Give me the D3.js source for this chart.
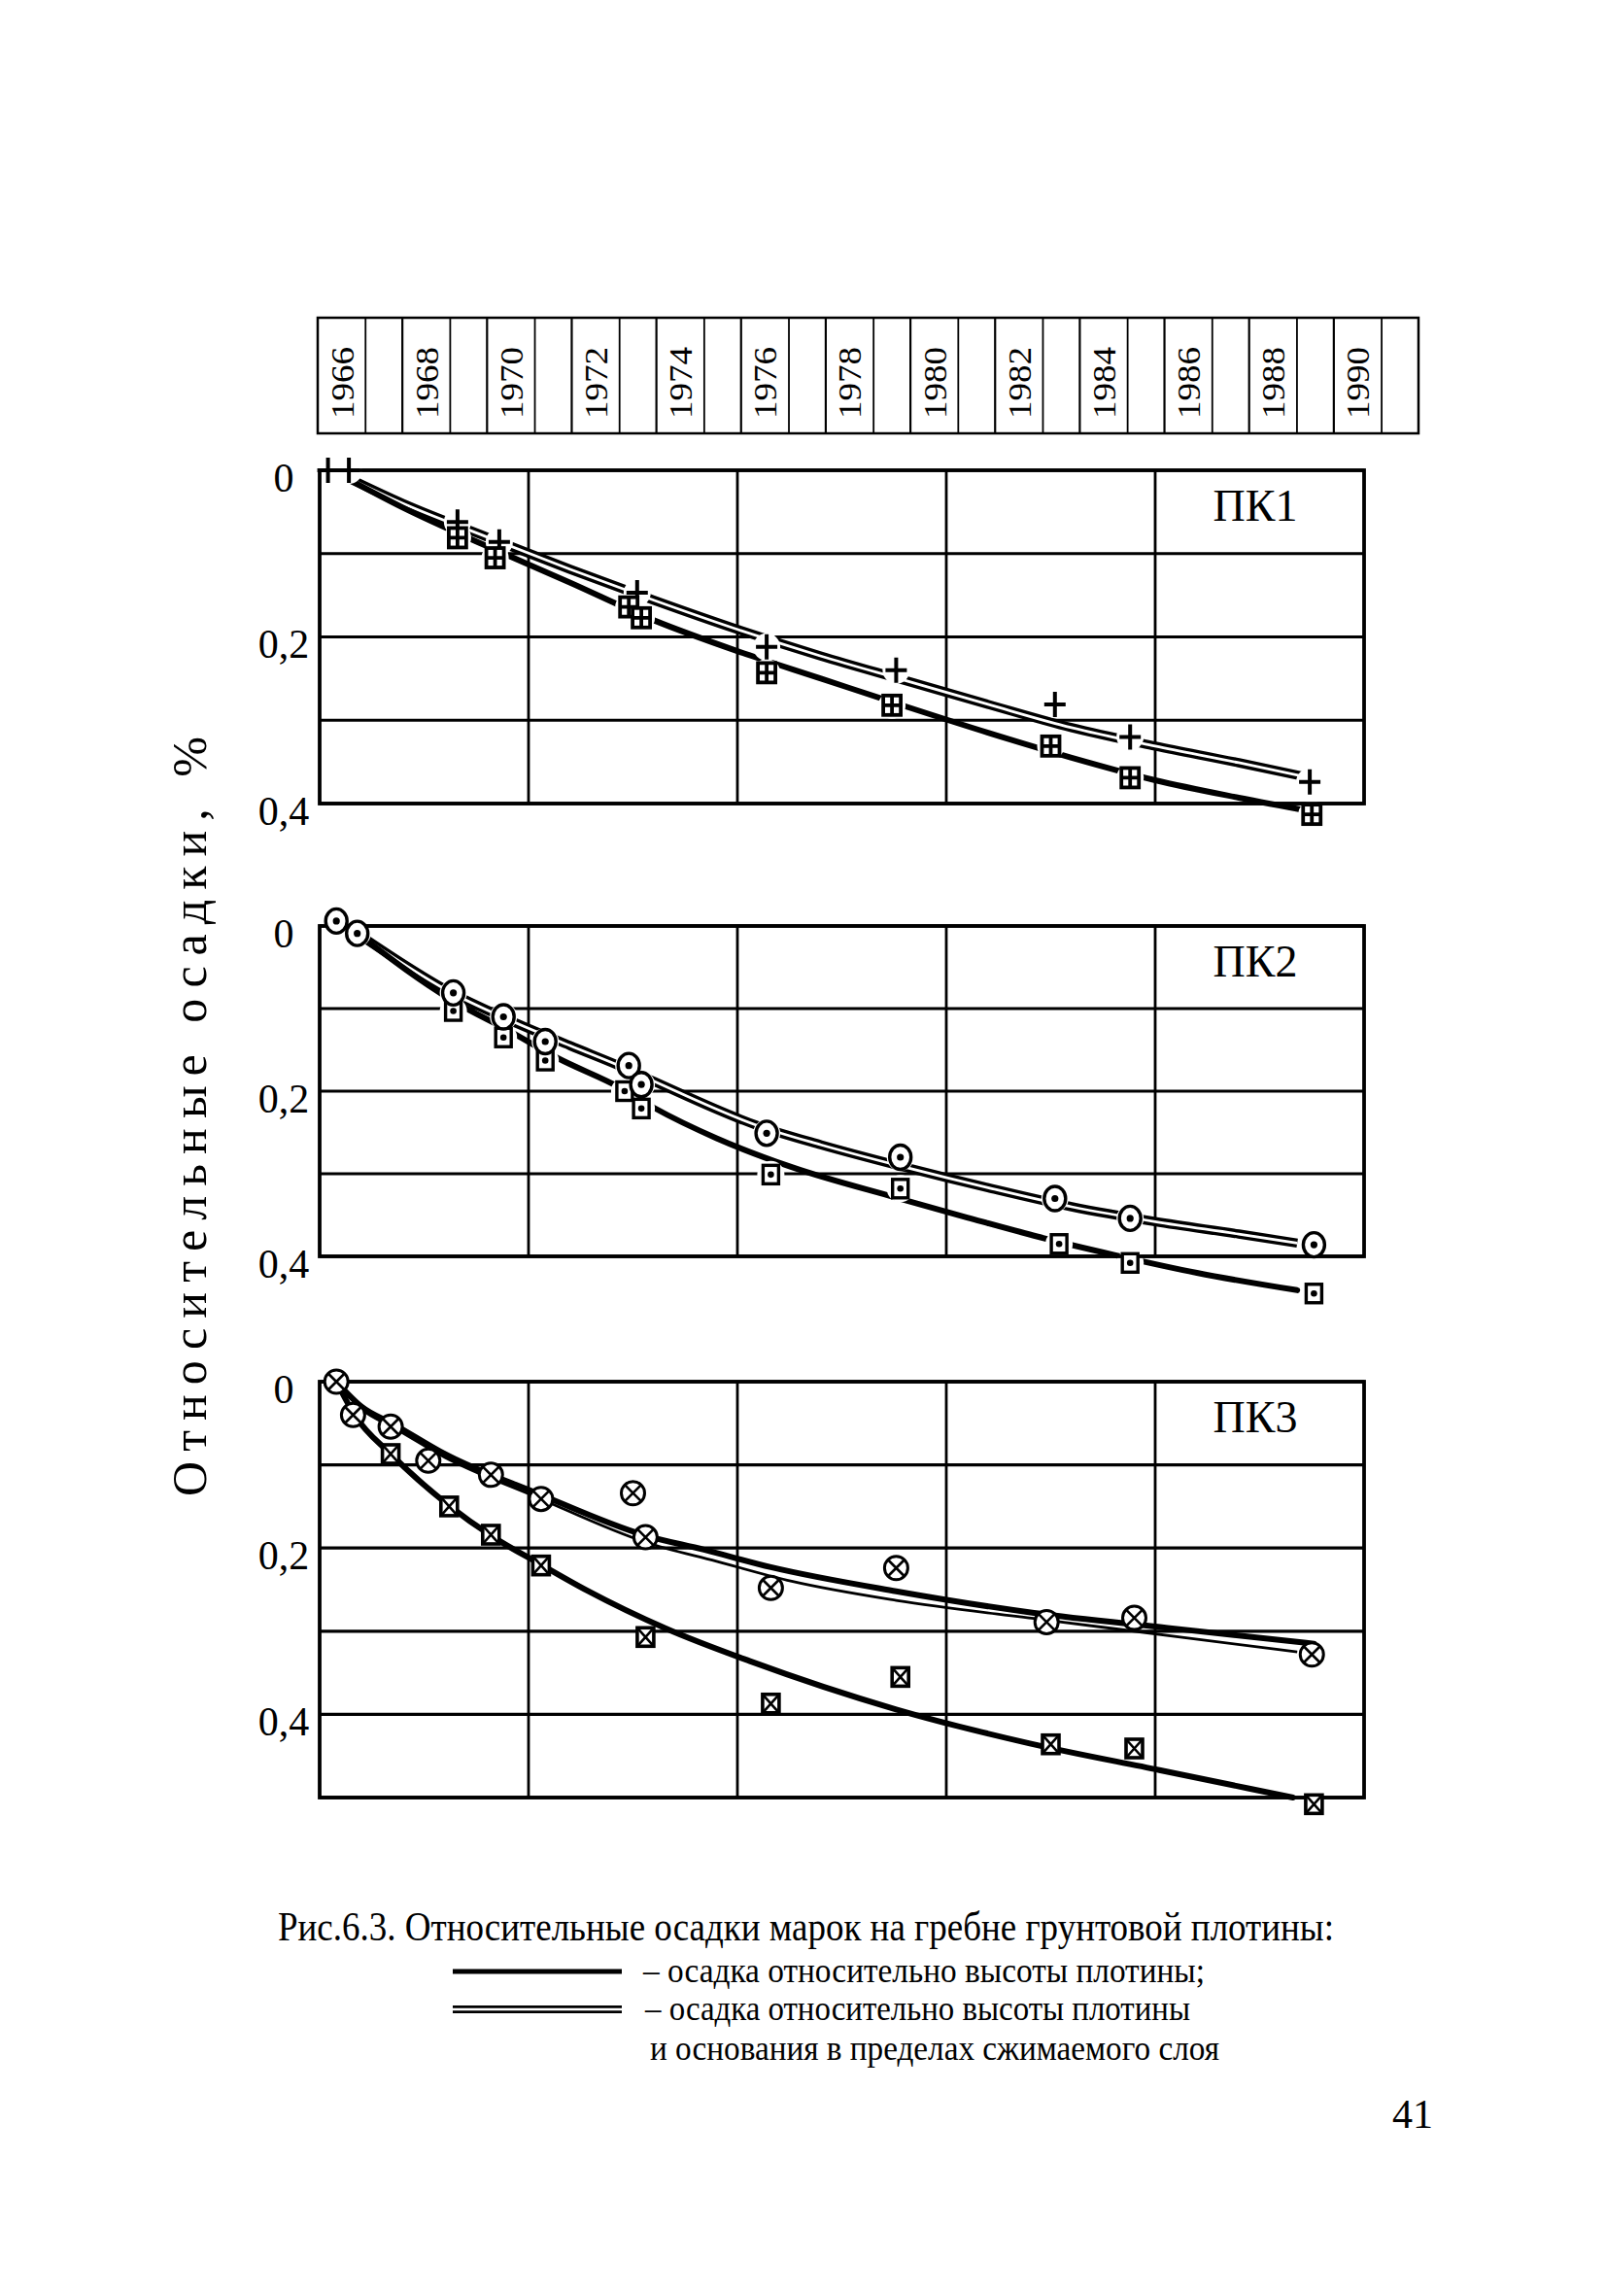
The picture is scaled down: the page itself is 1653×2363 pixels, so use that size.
<!DOCTYPE html>
<html><head><meta charset="utf-8">
<script src="https://cdn.jsdelivr.net/npm/d3@7"></script>
<style>
body{margin:0;background:#fff}
svg{display:block;background:#fff}
text{font-family:"Liberation Serif","Times New Roman",serif;fill:#000}
</style>
</head><body>
<svg id="c" width="1653" height="2363"></svg>
<script>
// ---------- data ----------
const stripYears = ["1966","1968","1970","1972","1974","1976","1978","1980","1982","1984","1986","1988","1990"];
const gridYears = [1971, 1976, 1981, 1986];
const yTickValues = [0, 0.2, 0.4];
const yTickLabels = ["0", "0,2", "0,4"];
const panelNames = ["ПК1", "ПК2", "ПК3"];

// ПК1
const pk1Plus = [[1966.2,0],[1966.7,0],[1969.3,0.062],[1970.3,0.086],[1973.6,0.147],[1976.7,0.212],[1979.8,0.240],[1983.6,0.281],[1985.4,0.320],[1989.7,0.374]];
const pk1Square = [[1969.3,0.081],[1970.2,0.105],[1973.4,0.164],[1973.7,0.177],[1976.7,0.243],[1979.7,0.282],[1983.5,0.331],[1985.4,0.369],[1989.75,0.413]];
const pk1Double = [[1966.3,0],[1968,0.040],[1970,0.080],[1972,0.119],[1974,0.156],[1976,0.191],[1978,0.223],[1980,0.252],[1982,0.281],[1984,0.309],[1986,0.331],[1988,0.351],[1989.5,0.367]];
const pk1Single = [[1966.3,0],[1968,0.045],[1970,0.091],[1972,0.135],[1974,0.180],[1976,0.217],[1978,0.250],[1980,0.283],[1982,0.315],[1984,0.345],[1986,0.372],[1988,0.393],[1989.8,0.410]];

// ПК2
const pk2Circle = [[1966.4,-0.006],[1966.9,0.009],[1969.2,0.081],[1970.4,0.110],[1971.4,0.140],[1973.4,0.169],[1973.7,0.192],[1976.7,0.251],[1979.9,0.280],[1983.6,0.330],[1985.4,0.354],[1989.8,0.386]];
const pk2Square = [[1969.2,0.103],[1970.4,0.135],[1971.4,0.163],[1973.3,0.200],[1973.7,0.221],[1976.8,0.301],[1979.9,0.318],[1983.7,0.385],[1985.4,0.408],[1989.8,0.445]];
const pk2Double = [[1966.9,0.009],[1969.2,0.082],[1970.5,0.113],[1972,0.145],[1973.3,0.172],[1974,0.188],[1976.5,0.242],[1978,0.265],[1980,0.292],[1982,0.317],[1984,0.340],[1986,0.358],[1988,0.373],[1989.4,0.384]];
const pk2Single = [[1966.9,0.009],[1969.2,0.091],[1970.5,0.126],[1971.7,0.160],[1973.2,0.196],[1974,0.220],[1975.5,0.257],[1977.3,0.292],[1979.8,0.329],[1981.5,0.353],[1983.1,0.375],[1985,0.398],[1987,0.420],[1989.4,0.441]];

// ПК3
const pk3CircleX = [[1966.4,0],[1966.8,0.040],[1967.7,0.054],[1968.6,0.095],[1970.1,0.112],[1971.3,0.141],[1973.5,0.134],[1973.8,0.187],[1976.8,0.248],[1979.8,0.224],[1983.4,0.289],[1985.5,0.284],[1989.75,0.328]];
const pk3SquareX = [[1967.7,0.087],[1969.1,0.150],[1970.1,0.184],[1971.3,0.221],[1973.8,0.307],[1976.8,0.387],[1979.9,0.355],[1983.5,0.436],[1985.5,0.441],[1989.8,0.508]];
const pk3UpperThick = [[1966.4,0],[1967.0,0.030],[1967.8,0.052],[1969,0.087],[1971.2,0.134],[1973.8,0.185],[1975.2,0.202],[1976.8,0.223],[1979.8,0.252],[1983.1,0.278],[1986.3,0.296],[1989.8,0.315]];
const pk3UpperThin = [[1966.4,0],[1967.0,0.033],[1967.8,0.056],[1969,0.091],[1971.2,0.139],[1973.8,0.193],[1975.5,0.216],[1977.3,0.240],[1979.8,0.263],[1983.3,0.286],[1986.6,0.307],[1989.4,0.325]];
const pk3Lower = [[1966.4,0],[1966.85,0.041],[1967.7,0.087],[1969.1,0.149],[1970.1,0.185],[1971.3,0.220],[1972.4,0.251],[1974.3,0.297],[1976.3,0.336],[1979.8,0.394],[1983,0.435],[1986.1,0.467],[1989.3,0.500]];

const captionLines = [
  "Рис.6.3. Относительные осадки марок на гребне грунтовой плотины:",
  "– осадка относительно высоты плотины;",
  "– осадка относительно высоты плотины",
  "и основания в пределах сжимаемого слоя"
];
const yTitle = "Относительные осадки, %";
const pageNumber = "41";

// ---------- layout ----------
const svg = d3.select("#c");
const FONT = '"Liberation Serif","Times New Roman",serif';
const X = d3.scaleLinear().domain([1966, 1991]).range([329, 1404]);

const panels = [
  {name: panelNames[0], top: 484, bottom: 827, max: 0.4, halo: true,
   lines: [{pts: pk1Double, type: "double"}, {pts: pk1Single, type: "single"}],
   series: [{pts: pk1Plus, m: "plus"}, {pts: pk1Square, m: "sqgrid"}]},
  {name: panelNames[1], top: 953, bottom: 1293, max: 0.4, halo: true,
   lines: [{pts: pk2Double, type: "double"}, {pts: pk2Single, type: "single"}],
   series: [{pts: pk2Square, m: "sqdot"}, {pts: pk2Circle, m: "circdot"}]},
  {name: panelNames[2], top: 1422, bottom: 1850, max: 0.5, halo: false,
   lines: [{pts: pk3UpperThin, type: "thin"}, {pts: pk3UpperThick, type: "single"}, {pts: pk3Lower, type: "single"}],
   series: [{pts: pk3SquareX, m: "sqx"}, {pts: pk3CircleX, m: "circx"}]}
];

// ---------- year strip ----------
const strip = svg.append("g");
const band = d3.scaleBand().domain(stripYears).range([327, 1460]);
const sTop = 327, sBot = 446;
strip.append("rect").attr("x", band.range()[0]).attr("y", sTop)
  .attr("width", band.range()[1] - band.range()[0]).attr("height", sBot - sTop)
  .attr("fill", "none").attr("stroke", "#000").attr("stroke-width", 2.5);
strip.selectAll("line.p").data(stripYears.slice(1)).join("line")
  .attr("x1", d => band(d)).attr("x2", d => band(d)).attr("y1", sTop).attr("y2", sBot)
  .attr("stroke", "#000").attr("stroke-width", 2.2);
strip.selectAll("line.h").data(stripYears).join("line")
  .attr("x1", d => band(d) + band.bandwidth() * 0.565).attr("x2", d => band(d) + band.bandwidth() * 0.565)
  .attr("y1", sTop).attr("y2", sBot).attr("stroke", "#000").attr("stroke-width", 1.8);
strip.selectAll("text").data(stripYears).join("text")
  .attr("x", d => band(d) + band.bandwidth() * 0.2825).attr("y", 394)
  .attr("transform", d => `rotate(-90,${band(d) + band.bandwidth() * 0.2825},394)`)
  .attr("text-anchor", "middle").attr("dy", "0.35em")
  .attr("textLength", 74).attr("lengthAdjust", "spacingAndGlyphs")
  .style("font-size", "34px").text(d => d);

// ---------- markers ----------
function marker(g, type, cx, cy) {
  const m = g.append("g").attr("transform", `translate(${cx},${cy})`)
    .attr("stroke", "#000").attr("fill", "#fff");
  if (type === "plus") {
    m.append("path").attr("d", "M-11,0H11M0,-13V13").attr("stroke-width", 4);
  } else if (type === "sqgrid") {
    m.append("rect").attr("x", -9).attr("y", -10).attr("width", 18).attr("height", 20).attr("stroke-width", 3.8);
    m.append("path").attr("d", "M-9,0H9M0,-10V10").attr("stroke-width", 3.8);
  } else if (type === "circdot") {
    m.append("ellipse").attr("rx", 11).attr("ry", 12.5).attr("stroke-width", 3.4);
    m.append("circle").attr("r", 3.6).attr("fill", "#000").attr("stroke", "none");
  } else if (type === "sqdot") {
    m.append("rect").attr("x", -8).attr("y", -9.5).attr("width", 16).attr("height", 19).attr("stroke-width", 3.4);
    m.append("circle").attr("r", 3.3).attr("fill", "#000").attr("stroke", "none");
  } else if (type === "circx") {
    m.append("circle").attr("r", 12).attr("stroke-width", 3);
    m.append("path").attr("d", "M-8,-8L8,8M8,-8L-8,8").attr("stroke-width", 2.6);
  } else if (type === "sqx") {
    m.append("rect").attr("x", -8.5).attr("y", -9.5).attr("width", 17).attr("height", 19).attr("stroke-width", 3.6);
    m.append("path").attr("d", "M-8.5,-9.5L8.5,9.5M8.5,-9.5L-8.5,9.5").attr("stroke-width", 2.6);
  }
}

// ---------- panels ----------
panels.forEach(p => {
  const g = svg.append("g");
  const Y = d3.scaleLinear().domain([0, p.max]).range([p.top, p.bottom]);
  const x0 = X(1966), x1 = X(1991);

  g.selectAll("line.hg").data(Y.ticks(Math.round(p.max * 10))).join("line")
    .attr("x1", x0).attr("x2", x1).attr("y1", d => Y(d)).attr("y2", d => Y(d))
    .attr("stroke", "#000").attr("stroke-width", 3.2);
  g.selectAll("line.vg").data(gridYears).join("line")
    .attr("x1", d => X(d)).attr("x2", d => X(d)).attr("y1", p.top).attr("y2", p.bottom)
    .attr("stroke", "#000").attr("stroke-width", 2.8);

  const lg = d3.line().x(d => X(d[0])).y(d => Y(d[1])).curve(d3.curveMonotoneX);
  p.lines.forEach(l => {
    if (l.type === "double") {
      g.append("path").attr("d", lg(l.pts)).attr("fill", "none").attr("stroke", "#000").attr("stroke-width", 9.5);
      g.append("path").attr("d", lg(l.pts)).attr("fill", "none").attr("stroke", "#fff").attr("stroke-width", 2.8);
    } else if (l.type === "thin") {
      g.append("path").attr("d", lg(l.pts)).attr("fill", "none").attr("stroke", "#000").attr("stroke-width", 2.8);
    } else {
      g.append("path").attr("d", lg(l.pts)).attr("fill", "none").attr("stroke", "#000").attr("stroke-width", 6)
        .attr("stroke-linecap", "round");
    }
  });

  if (p.halo) {
    p.series.forEach(s => {
      g.selectAll(null).data(s.pts).join("circle")
        .attr("cx", d => X(d[0])).attr("cy", d => Y(d[1])).attr("r", 14).attr("fill", "#fff");
    });
  }

  g.append("rect").attr("x", x0).attr("y", p.top).attr("width", x1 - x0).attr("height", p.bottom - p.top)
    .attr("fill", "none").attr("stroke", "#000").attr("stroke-width", 3.8);

  p.series.forEach(s => s.pts.forEach(d => marker(g, s.m, X(d[0]), Y(d[1]))));

  const axis = d3.axisLeft(Y).tickValues(yTickValues).tickFormat((d, i) => yTickLabels[i]).tickSize(0).tickPadding(0);
  const ag = g.append("g").attr("transform", "translate(292,0)").call(axis);
  ag.attr("font-family", null).attr("font-size", null);
  ag.select(".domain").remove();
  ag.selectAll("text").attr("x", 0).attr("dy", "0.5em").attr("text-anchor", "middle")
    .style("font-size", "42px").style("font-family", FONT);

  g.append("text").attr("x", 1292).attr("y", p.top + 52).attr("text-anchor", "middle")
    .style("font-size", "46px").text(p.name);
});

// ---------- y title ----------
svg.append("text").attr("x", 212).attr("y", 1149)
  .attr("transform", "rotate(-90,212,1149)").attr("text-anchor", "middle")
  .attr("textLength", 782).attr("lengthAdjust", "spacing")
  .style("font-size", "50px").text(yTitle);

// ---------- caption & legend ----------
const cap = svg.append("g");
cap.append("text").attr("x", 286).attr("y", 1997).attr("textLength", 1087).attr("lengthAdjust", "spacingAndGlyphs")
  .style("font-size", "42px").text(captionLines[0]);
cap.append("line").attr("x1", 466).attr("x2", 640).attr("y1", 2029).attr("y2", 2029)
  .attr("stroke", "#000").attr("stroke-width", 5);
cap.append("text").attr("x", 662).attr("y", 2040).attr("textLength", 578).attr("lengthAdjust", "spacingAndGlyphs")
  .style("font-size", "36px").text(captionLines[1]);
cap.append("line").attr("x1", 466).attr("x2", 640).attr("y1", 2068).attr("y2", 2068)
  .attr("stroke", "#000").attr("stroke-width", 8);
cap.append("line").attr("x1", 466).attr("x2", 640).attr("y1", 2068).attr("y2", 2068)
  .attr("stroke", "#fff").attr("stroke-width", 2.4);
cap.append("text").attr("x", 664).attr("y", 2079).attr("textLength", 561).attr("lengthAdjust", "spacingAndGlyphs")
  .style("font-size", "36px").text(captionLines[2]);
cap.append("text").attr("x", 669).attr("y", 2120).attr("textLength", 586).attr("lengthAdjust", "spacingAndGlyphs")
  .style("font-size", "36px").text(captionLines[3]);

svg.append("text").attr("x", 1454).attr("y", 2190).attr("text-anchor", "middle")
  .style("font-size", "42px").text(pageNumber);
</script>
</body></html>
